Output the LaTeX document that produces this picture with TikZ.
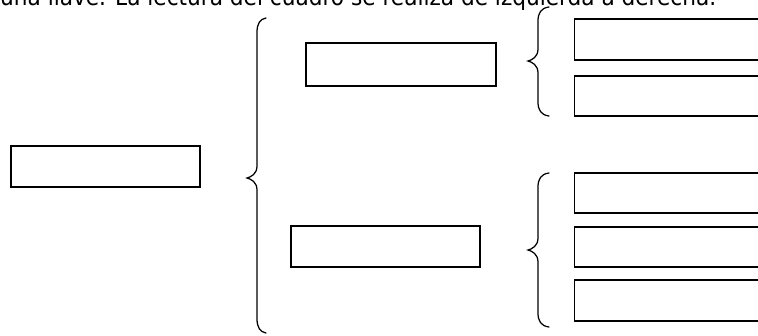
\documentclass[tikz,border=0pt]{standalone}
\usepackage{fontspec}
\setmainfont{DejaVu Sans Condensed}
\usepackage{graphicx}
\tikzset{
  cell/.style={draw=black, line width=1.4pt, fill=white, rectangle, inner sep=0pt},
  bracepath/.style={draw=black, line width=1.25pt, line cap=round},
}
% brace: #1 = x of arm ends, #2 = x of vertical, #3 = x of tip, #4 = top y, #5 = tip y, #6 = bottom y
\newcommand{\mybrace}[6]{%
  \draw[bracepath] (#1,#4) .. controls (#2+3,#4+1) and (#2,#4+6) .. (#2,#4+14)
    -- (#2,#5-12) .. controls (#2,#5-4) and (#3+4,#5-1) .. (#3,#5)
    .. controls (#3+4,#5+1) and (#2,#5+4) .. (#2,#5+12)
    -- (#2,#6-14) .. controls (#2,#6-6) and (#2+3,#6-1) .. (#1,#6);}
\begin{document}
\begin{tikzpicture}[x=1pt,y=-1pt]
\useasboundingbox (0,0) rectangle (758,335);
\clip (0,0) rectangle (758,335);
\node[anchor=base west, inner sep=0pt] (txt) at (0,5) {\resizebox{716pt}{!}{una llave. La lectura del cuadro se realiza de izquierda a derecha.}};
% boxes
\node[cell, minimum width=189pt, minimum height=41pt] (root) at (105.5,166.5) {};
\node[cell, minimum width=190pt, minimum height=43pt] (m1) at (401,64.5) {};
\node[cell, minimum width=189pt, minimum height=41pt] (m2) at (385.5,246.5) {};
\node[cell, minimum width=200pt, minimum height=41pt, anchor=west] (r1) at (574,39.5) {};
\node[cell, minimum width=200pt, minimum height=40pt, anchor=west] (r2) at (574,96) {};
\node[cell, minimum width=200pt, minimum height=40pt, anchor=west] (r3) at (574,193) {};
\node[cell, minimum width=200pt, minimum height=40pt, anchor=west] (r4) at (574,247) {};
\node[cell, minimum width=200pt, minimum height=41pt, anchor=west] (r5) at (574,300.5) {};
% braces
\mybrace{266}{257}{247}{18}{178}{333}
\mybrace{549}{538}{528}{7}{61}{116}
\mybrace{549}{538}{528}{173}{250}{327}
\end{tikzpicture}
\end{document}
